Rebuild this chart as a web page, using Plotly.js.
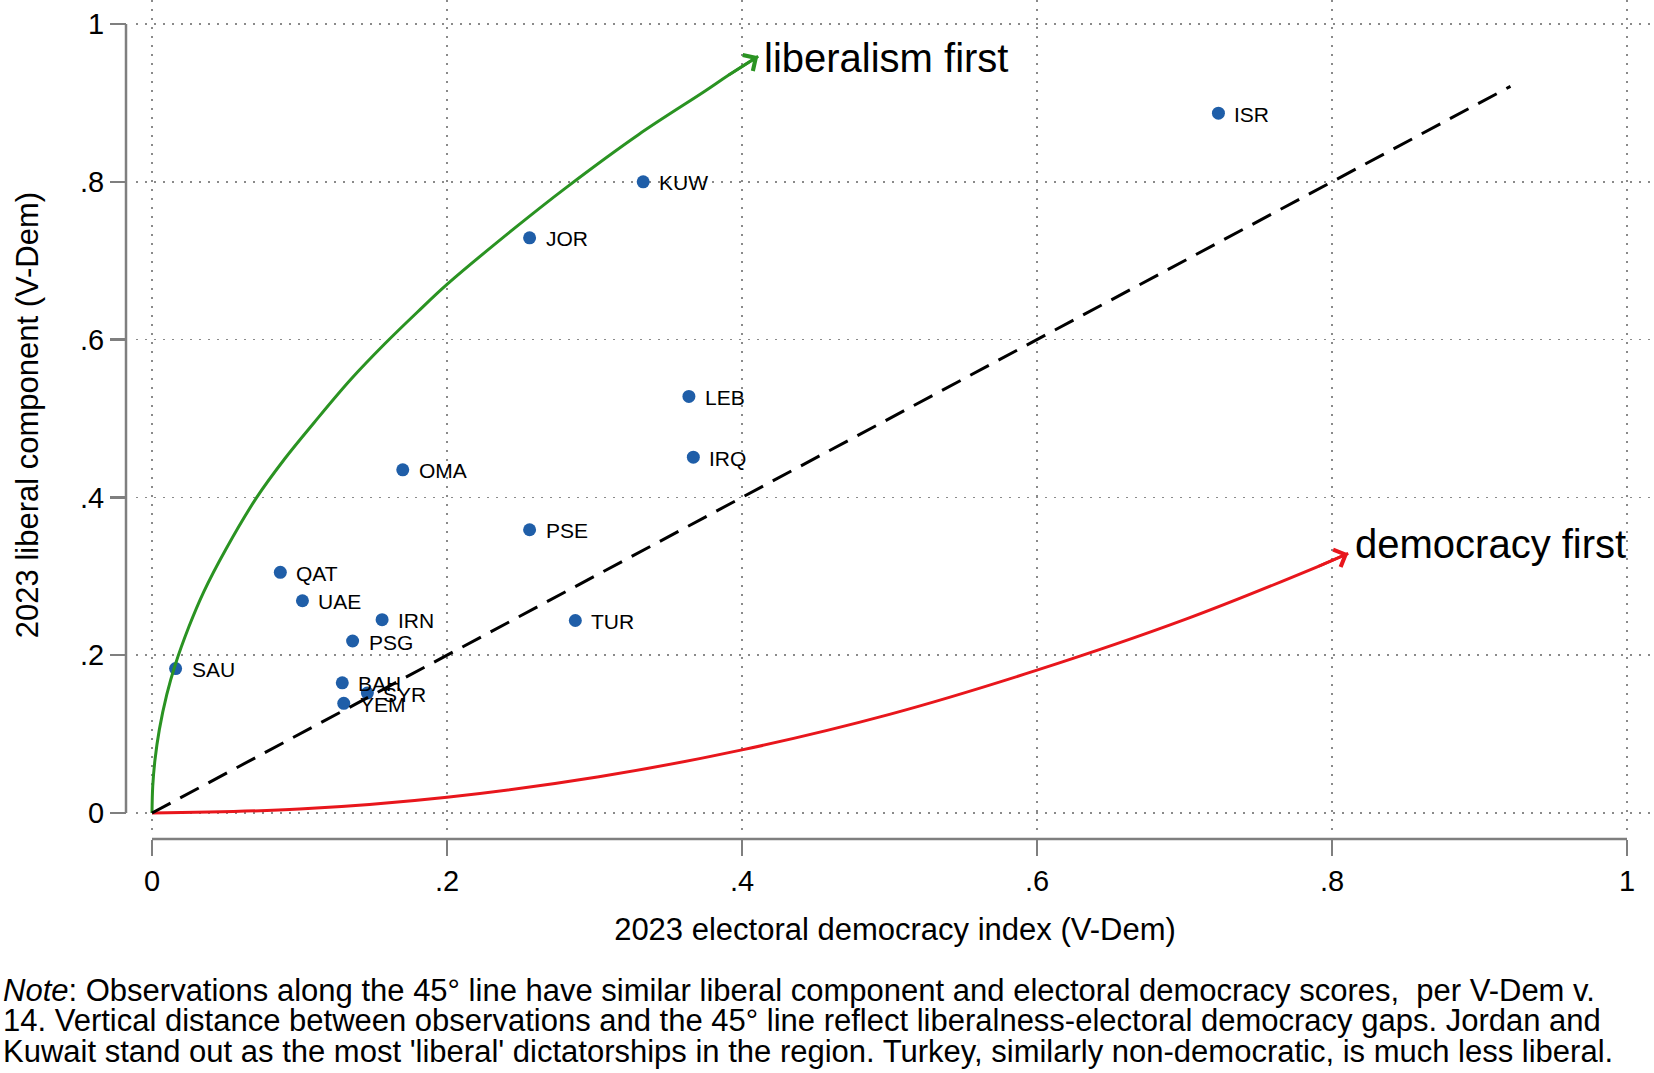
<!DOCTYPE html>
<html>
<head>
<meta charset="utf-8">
<script src="https://cdn.plot.ly/plotly-3.0.1.min.js"></script>
<style>html,body{margin:0;padding:0;background:#fff;}</style>
</head>
<body>
<div id="chart" style="width:1654px;height:1073px;"></div>
<script>
// ---------------- data ----------------
const countries = ['ISR','KUW','JOR','LEB','IRQ','OMA','PSE','TUR','QAT','UAE','IRN','PSG','SAU','BAH','SYR','YEM'];
const electoralDemocracy = [0.723,0.333,0.256,0.364,0.367,0.170,0.256,0.287,0.087,0.102,0.156,0.136,0.016,0.129,0.146,0.130];
const liberalComponent   = [0.887,0.800,0.729,0.528,0.451,0.435,0.359,0.244,0.305,0.269,0.245,0.218,0.183,0.165,0.152,0.139];

const tickValues = [0, 0.2, 0.4, 0.6, 0.8, 1];
const tickLabels = ['0', '.2', '.4', '.6', '.8', '1'];

const diagonalX = [0, 0.921];
const diagonalY = [0, 0.921];

// curves (last point = arrow tip)
const liberalismFirstX = [0, 0.0005, 0.002, 0.005, 0.01, 0.0156, 0.025, 0.035, 0.05, 0.071, 0.09, 0.11, 0.135, 0.158, 0.18, 0.2, 0.245, 0.281, 0.33, 0.375, 0.39, 0.411];
const liberalismFirstY = [0, 0.034, 0.067, 0.106, 0.150, 0.187, 0.236, 0.28, 0.334, 0.40, 0.449, 0.495, 0.55, 0.595, 0.635, 0.67, 0.74, 0.793, 0.86, 0.915, 0.934, 0.959];
const democracyFirstX = [0, 0.1, 0.2, 0.303, 0.4, 0.5, 0.6, 0.7, 0.79, 0.811];
const democracyFirstY = [0, 0.005, 0.02, 0.046, 0.08, 0.125, 0.181, 0.245, 0.312, 0.329];

const noteLines = [
  "<i>Note</i>: Observations along the 45° line have similar liberal component and electoral democracy scores,  per V-Dem v.",
  "14. Vertical distance between observations and the 45° line reflect liberalness-electoral democracy gaps. Jordan and",
  "Kuwait stand out as the most 'liberal' dictatorships in the region. Turkey, similarly non-democratic, is much less liberal."
];

// ---------------- geometry ----------------
const W = 1654, H = 1073;
const M = {l: 100, r: 0, t: 0, b: 130};
const PW = W - M.l - M.r, PH = H - M.t - M.b;
const pxX = p => (p - M.l) / PW;
const pxY = p => (H - M.b - p) / PH;

const plotL = 136, plotR = 1654, plotT = 0, plotB = 830;
const xa0 = 152, xa1 = 1627, ya0 = 813, ya1 = 24;
const xRange = [(plotL - xa0) / (xa1 - xa0), (plotR - xa0) / (xa1 - xa0)];
const yRange = [(ya0 - plotB) / (ya0 - ya1), (ya0 - plotT) / (ya0 - ya1)];

const FONT = 'Liberation Sans, Arial, Helvetica, sans-serif';
const AXIS_GRAY = '#7f7f7f';
const GRID_GRAY = '#8a8a8a';
const BLUE = '#1f5ea8';
const GREEN = '#2a9322';
const RED = '#e8161c';

const traces = [
  {
    x: electoralDemocracy, y: liberalComponent, mode: 'markers', type: 'scatter',
    marker: {size: 13, color: BLUE}, hoverinfo: 'text', text: countries, showlegend: false
  },
  {
    x: liberalismFirstX, y: liberalismFirstY, mode: 'lines', type: 'scatter',
    line: {color: GREEN, width: 3, shape: 'spline', smoothing: 1}, hoverinfo: 'skip', showlegend: false
  },
  {
    x: democracyFirstX, y: democracyFirstY, mode: 'lines', type: 'scatter',
    line: {color: RED, width: 3, shape: 'spline', smoothing: 1}, hoverinfo: 'skip', showlegend: false
  },
  {
    x: diagonalX, y: diagonalY, mode: 'lines', type: 'scatter',
    line: {color: '#000', width: 3, dash: '21px,11px'}, hoverinfo: 'skip', showlegend: false
  }
];

const annotations = countries.map((c, i) => ({
  x: electoralDemocracy[i], y: liberalComponent[i], xref: 'x', yref: 'y',
  text: c, showarrow: false, xanchor: 'left', yanchor: 'middle',
  xshift: 14, yshift: -1,
  font: {family: FONT, size: 21, color: '#000'}
}));

// arrowheads at the ends of the curves, pointing along the last segment
const lastG = liberalismFirstX.length - 1, lastR = democracyFirstX.length - 1;
annotations.push({
  x: liberalismFirstX[lastG], y: liberalismFirstY[lastG], xref: 'x', yref: 'y',
  ax: liberalismFirstX[lastG - 1], ay: liberalismFirstY[lastG - 1], axref: 'x', ayref: 'y',
  text: '', showarrow: true, arrowhead: 4, arrowsize: 1.3, arrowwidth: 2.8, arrowcolor: GREEN, standoff: 0
});
annotations.push({
  x: democracyFirstX[lastR], y: democracyFirstY[lastR], xref: 'x', yref: 'y',
  ax: democracyFirstX[lastR - 1], ay: democracyFirstY[lastR - 1], axref: 'x', ayref: 'y',
  text: '', showarrow: true, arrowhead: 4, arrowsize: 1.3, arrowwidth: 2.8, arrowcolor: RED, standoff: 0
});
annotations.push({
  x: 0.4133, y: 0.957, xref: 'x', yref: 'y', text: 'liberalism first', showarrow: false,
  xanchor: 'left', yanchor: 'middle', font: {family: FONT, size: 40, color: '#000'}
});
annotations.push({
  x: 0.8144, y: 0.341, xref: 'x', yref: 'y', text: 'democracy first', showarrow: false,
  xanchor: 'left', yanchor: 'middle', font: {family: FONT, size: 40, color: '#000'}
});

const noteY = [991, 1021, 1051];
noteLines.forEach((t, i) => annotations.push({
  x: pxX(1), y: pxY(noteY[i]), xref: 'paper', yref: 'paper', text: t, showarrow: false,
  xanchor: 'left', yanchor: 'middle', align: 'left',
  font: {family: FONT, size: 31, color: '#000'}
}));

const shapes = [
  {type: 'line', xref: 'paper', yref: 'paper', x0: pxX(126), x1: pxX(126), y0: pxY(ya0), y1: pxY(ya1),
   line: {color: AXIS_GRAY, width: 2.5}},
  {type: 'line', xref: 'paper', yref: 'paper', x0: pxX(xa0), x1: pxX(xa1), y0: pxY(839), y1: pxY(839),
   line: {color: AXIS_GRAY, width: 2.5}}
];

const layout = {
  width: W, height: H, autosize: false,
  margin: {l: M.l, r: M.r, t: M.t, b: M.b, pad: 0},
  paper_bgcolor: '#fff', plot_bgcolor: '#fff',
  font: {family: FONT, color: '#000'},
  showlegend: false,
  xaxis: {
    domain: [pxX(plotL), pxX(plotR)], range: xRange, anchor: 'free', position: pxY(839),
    tickmode: 'array', tickvals: tickValues, ticktext: tickLabels,
    ticks: 'outside', ticklen: 16, tickwidth: 2.5, tickcolor: AXIS_GRAY,
    tickfont: {family: FONT, size: 29, color: '#000'},
    showline: false, zeroline: false,
    showgrid: true, gridcolor: GRID_GRAY, gridwidth: 1.6, griddash: '2px,7px',
    title: {text: '2023 electoral democracy index (V-Dem)', font: {family: FONT, size: 31, color: '#000'}, standoff: 22},
    automargin: false, fixedrange: true
  },
  yaxis: {
    domain: [pxY(plotB), pxY(plotT)], range: yRange, anchor: 'free', position: pxX(126),
    tickmode: 'array', tickvals: tickValues, ticktext: tickLabels,
    ticks: 'outside', ticklen: 16, tickwidth: 2.5, tickcolor: AXIS_GRAY,
    tickfont: {family: FONT, size: 29, color: '#000'},
    showline: false, zeroline: false,
    showgrid: true, gridcolor: GRID_GRAY, gridwidth: 1.6, griddash: '2px,7px',
    title: {text: '2023 liberal component (V-Dem)', font: {family: FONT, size: 31, color: '#000'}, standoff: 31},
    automargin: false, fixedrange: true
  },
  shapes: shapes,
  annotations: annotations
};

Plotly.newPlot('chart', traces, layout, {displayModeBar: false, staticPlot: true});
</script>
</body>
</html>
